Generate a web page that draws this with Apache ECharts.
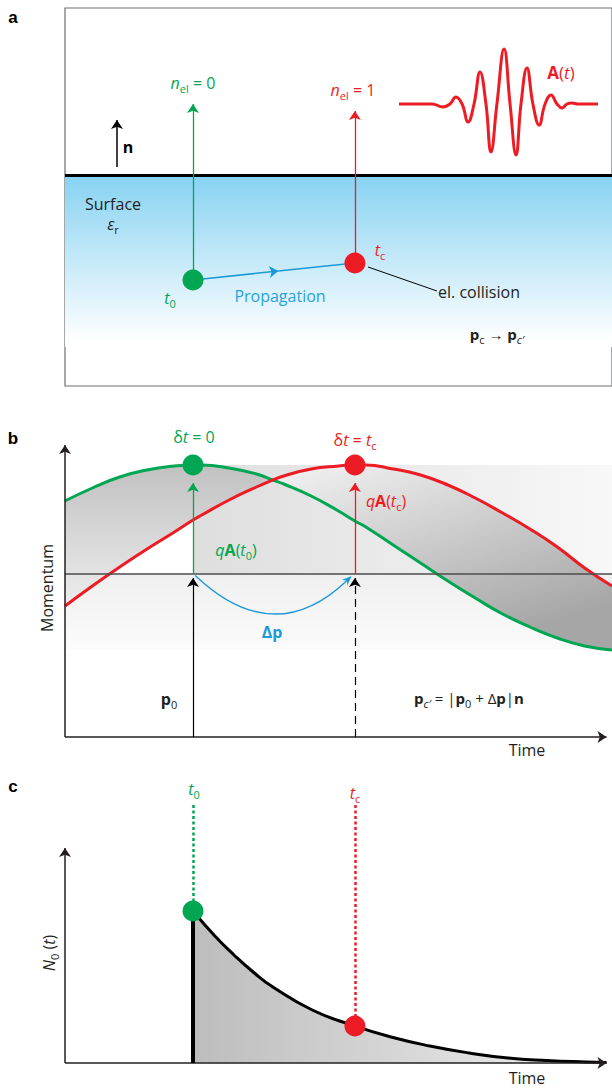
<!DOCTYPE html>
<html><head><meta charset="utf-8">
<script src="https://cdn.jsdelivr.net/npm/echarts@6.0.0/dist/echarts.min.js"></script>
<style>html,body{margin:0;padding:0;background:#fff}#c{width:612px;height:1090px}</style>
</head><body><div id="c"></div>
<script>
// ================= DATA =================
// shared time marks (time units, axis 0..100)
const t0 = 23.4;          // emission time
const tc = 53.0;          // collision time
const crossT = 38;        // where the two momentum curves cross

// panel a: schematic (lateral position in time units, height relative to surface)
const nArrowX = 9.5;
const nArrow = [8, 55];
const emitDepth = -105;
const collideDepth = -88;
const emitArrowTop = 71;
const collideArrowTop = 64;
const propMid = [39.0, -96];
const collisionLeader = [[55.4, -92], [68.0, -116]];

// panel a: laser pulse A(t)
const waveT = [0, 16.6, 22.1, 25.6, 28.6, 31.7, 34.7, 37.7, 40.7, 43.7, 46.2, 49.2, 52.8, 55.8, 58.8, 61.3, 64.3, 67.3, 70.4, 73.4, 76.4, 79.4, 81.9, 84.4, 86.9, 89.9, 100];
const waveA = [0, 0, -3, 0, 7, 0, -18, 0, 32, 0, -48, 0, 55, 0, -51, 0, 36, 0, -21, 0, 9, 0, -4, 0, 1, 0, 0];

// panel b: momentum curves
const timeB  = [0, 5, 10, 15, 20, 23.4, 25, 30, 35, 38, 40, 45, 50, 53, 55, 60, 65, 70, 75, 80, 85, 90, 95, 100];
const greenP = [73, 86, 97, 104, 108, 109, 109, 106, 100, 94, 90, 78, 63, 53, 47, 29, 11, -7, -24, -40, -53, -64, -72, -76];
const redP   = [-32, -12, 7, 25, 42, 54, 59, 74, 87, 94, 98, 105, 108, 109, 109, 105, 99, 89, 76, 61, 45, 27, 6, -12];
const peakP = 109;
const kickTop = 91;
const arcDepth = -39;     // lowest point of the Δp arc
const bandTop = 109, bandBottom = -76;
const axisBottomB = -163;

// panel c: N0(t) decay
const decayT = [23.4, 27.4, 30.9, 34.4, 38.0, 45.2, 53.0, 59.6, 66.7, 73.9, 81.0, 88.1, 95.2, 99];
const decayN = [152, 127, 108, 91, 76, 53, 37, 26, 17, 10, 5, 2.5, 1, 0.5];
const dottedTop = 258;

// ================= STYLE =================
const G = '#00a651', R = '#ed1c24', B = '#1d9ad6', K = '#231f20';
const F = '"Open Sans", "Noto Sans", sans-serif';

function zip(a, b) { return a.map((v, i) => [v, b[i]]); }
function lin(x, y, x2, y2, stops) {
  return {type: 'linear', x: x, y: y, x2: x2, y2: y2, colorStops: stops.map((c) => ({offset: c[0], color: c[1]}))};
}
function rich(color, size) {
  const base = {fill: color, color: color, fontFamily: F, fontSize: size, lineHeight: size + 6};
  const ss = Math.round(size * 0.7);
  return {
    r: Object.assign({}, base),
    i: Object.assign({}, base, {fontStyle: 'italic'}),
    b: Object.assign({}, base, {fontWeight: 'bold'}),
    s: {fill: color, color: color, fontFamily: F, fontSize: ss, lineHeight: ss + 1, verticalAlign: 'bottom'},
    si: {fill: color, color: color, fontFamily: F, fontSize: ss, fontStyle: 'italic', lineHeight: ss + 1, verticalAlign: 'bottom'}
  };
}
function txt(x, y, text, color, size, extra) {
  const el = {
    type: 'text', x: x, y: y, z: 100, silent: true,
    style: {text: text, fill: color, fontFamily: F, fontSize: size, lineHeight: size + 6,
      align: 'center', textAlign: 'center', verticalAlign: 'middle', textVerticalAlign: 'middle',
      rich: rich(color, size)}
  };
  if (extra) { Object.assign(el, extra.el || {}); Object.assign(el.style, extra.style || {}); }
  return el;
}
function seg(p1, p2, style) {
  return [{coord: p1, lineStyle: style}, {coord: p2}];
}
// a helper series that only carries mark lines
function lines(xi, data, sym, extra) {
  return Object.assign({type: 'line', xAxisIndex: xi, yAxisIndex: xi, data: [], z: 4, silent: true,
    markLine: Object.assign({silent: true, animation: false, symbol: sym, symbolSize: 9, label: {show: false}, data: data}, extra || {})});
}

// band between the two momentum curves, built from the curve arrays
function bandPolygon(api, lo, hi, upper, lower) {
  const pts = [];
  for (let i = 0; i < timeB.length; i++) if (timeB[i] >= lo && timeB[i] <= hi) pts.push(api.coord([timeB[i], upper[i]]));
  for (let i = timeB.length - 1; i >= 0; i--) if (timeB[i] >= lo && timeB[i] <= hi) pts.push(api.coord([timeB[i], lower[i]]));
  return pts;
}

const hidden = {type: 'value', show: false};
const dotStyle = (c) => ({color: c, opacity: 1});
const option = {
  animation: false,
  grid: [
    {left: 65, top: 8, width: 547, height: 378, show: true, borderColor: '#6d6e71', borderWidth: 1.2, backgroundColor: 'rgba(0,0,0,0)'},
    {left: 399, top: 49, width: 199, height: 110},
    {left: 65, top: 437, width: 547, height: 300},
    {left: 65, top: 790, width: 547, height: 273}
  ],
  xAxis: [
    Object.assign({gridIndex: 0, min: 0, max: 100}, hidden),
    Object.assign({gridIndex: 1, min: 0, max: 100}, hidden),
    Object.assign({gridIndex: 2, min: 0, max: 100}, hidden),
    Object.assign({gridIndex: 3, min: 0, max: 100}, hidden)
  ],
  yAxis: [
    Object.assign({gridIndex: 0, min: -211, max: 167}, hidden),
    Object.assign({gridIndex: 1, min: -55, max: 55}, hidden),
    Object.assign({gridIndex: 2, min: -163, max: 137}, hidden),
    Object.assign({gridIndex: 3, min: 0, max: 273}, hidden)
  ],
  series: [
    // ---------- panel a ----------
    {type: 'line', xAxisIndex: 0, yAxisIndex: 0, data: [], z: 1, silent: true,
      markArea: {silent: true, itemStyle: {color: lin(0, 0, 0, 1, [[0, '#86d2f2'], [0.45, '#bfe7f8'], [0.97, '#ffffff'], [1, '#ffffff']])},
        data: [[{coord: [0, 0]}, {coord: [100, -172]}]]}},
    lines(0, [{yAxis: 0, lineStyle: {color: '#000', width: 3, type: 'solid'}}], 'none'),
    lines(0, [
      seg([nArrowX, nArrow[0]], [nArrowX, nArrow[1]], {color: '#000', width: 1.5, type: 'solid'}),
      seg([t0, emitDepth], [t0, emitArrowTop], {color: G, width: 1.3, type: 'solid'}),
      seg([tc, collideDepth], [tc, collideArrowTop], {color: R, width: 1.3, type: 'solid'}),
      seg([t0, emitDepth], propMid, {color: B, width: 1.6, type: 'solid'})
    ], ['none', 'arrow']),
    lines(0, [
      seg(propMid, [tc, collideDepth], {color: B, width: 1.6, type: 'solid'}),
      seg(collisionLeader[0], collisionLeader[1], {color: '#000', width: 1, type: 'solid'})
    ], 'none'),
    {type: 'scatter', xAxisIndex: 0, yAxisIndex: 0, z: 5, silent: true, symbolSize: 21,
      data: [{value: [t0, emitDepth], itemStyle: dotStyle(G)}, {value: [tc, collideDepth], itemStyle: dotStyle(R)}]},
    // pulse
    {type: 'line', xAxisIndex: 1, yAxisIndex: 1, smooth: 0.45, symbol: 'none', silent: true, clip: false,
      lineStyle: {color: R, width: 3}, data: zip(waveT, waveA)},

    // ---------- panel b ----------
    {type: 'line', xAxisIndex: 2, yAxisIndex: 2, data: [], z: 1, silent: true,
      markArea: {silent: true, data: [
        [{coord: [t0, bandTop], itemStyle: {color: lin(0, 0, 1, 0, [[0, '#dedede'], [1, '#f8f8f8']])}}, {coord: [100, 0]}],
        [{coord: [0, 0], itemStyle: {color: lin(0, 0, 0, 1, [[0, '#efefef'], [1, '#fcfcfc']])}}, {coord: [100, bandBottom]}]
      ]}},
    {type: 'custom', xAxisIndex: 2, yAxisIndex: 2, coordinateSystem: 'cartesian2d', z: 2, silent: true, clip: false,
      data: [[0, 0]],
      renderItem: function (params, api) {
        return {type: 'group', children: [
          {type: 'polygon', shape: {points: bandPolygon(api, 0, crossT, greenP, redP)},
            style: {fill: lin(0, 0, 0, 1, [[0, '#c1c1c1'], [1, '#ededed']])}},
          {type: 'polygon', shape: {points: bandPolygon(api, crossT, 100, redP, greenP)},
            style: {fill: lin(0, 0, 0.55, 1, [[0, '#f3f3f3'], [1, '#a6a6a6']])}}
        ]};
      }},
    {type: 'line', xAxisIndex: 2, yAxisIndex: 2, smooth: true, symbol: 'none', silent: true, z: 3,
      lineStyle: {color: G, width: 3}, data: zip(timeB, greenP)},
    {type: 'line', xAxisIndex: 2, yAxisIndex: 2, smooth: true, symbol: 'none', silent: true, z: 3,
      lineStyle: {color: R, width: 3}, data: zip(timeB, redP)},
    lines(2, [{yAxis: 0, lineStyle: {color: '#4d4d4f', width: 1.6, type: 'solid'}}], 'none'),
    lines(2, [
      seg([tc, axisBottomB], [tc, -4], {color: '#000', width: 1.2, type: [8, 5]}),
      seg([0, axisBottomB], [0, 129], {color: K, width: 1.5, type: 'solid'}),
      seg([0, axisBottomB], [99, axisBottomB], {color: K, width: 1.5, type: 'solid'}),
      seg([t0, axisBottomB], [t0, -4], {color: '#000', width: 1.2, type: 'solid'}),
      seg([t0, 0], [t0, kickTop], {color: G, width: 1.3, type: 'solid'}),
      seg([tc, 0], [tc, kickTop], {color: R, width: 1.3, type: 'solid'})
    ], ['none', 'arrow']),
    // Δp arc (quadratic curve through the library's coordinates) with arrowhead
    {type: 'custom', xAxisIndex: 2, yAxisIndex: 2, coordinateSystem: 'cartesian2d', z: 4, silent: true, clip: false,
      data: [[0, 0]],
      renderItem: function (params, api) {
        const p1 = api.coord([t0 + 0.4, -1.5]);
        const p2 = api.coord([tc - 0.6, -2]);
        const cp = api.coord([(t0 + tc) / 2, 2 * arcDepth + 1.7]);
        const dx = p2[0] - cp[0], dy = p2[1] - cp[1], L = Math.hypot(dx, dy);
        const ux = dx / L, uy = dy / L, nx = -uy, ny = ux, len = 10, hw = 4;
        return {type: 'group', children: [
          {type: 'bezierCurve', shape: {x1: p1[0], y1: p1[1], x2: p2[0] - ux * 6, y2: p2[1] - uy * 6, cpx1: cp[0], cpy1: cp[1]},
            style: {stroke: B, lineWidth: 1.4, fill: 'none'}},
          {type: 'polygon', shape: {points: [
            [p2[0], p2[1]],
            [p2[0] - ux * len + nx * hw, p2[1] - uy * len + ny * hw],
            [p2[0] - ux * len * 0.65, p2[1] - uy * len * 0.65],
            [p2[0] - ux * len - nx * hw, p2[1] - uy * len - ny * hw]]},
            style: {fill: B, stroke: 'none'}}
        ]};
      }},
    {type: 'scatter', xAxisIndex: 2, yAxisIndex: 2, z: 5, silent: true, symbolSize: 21,
      data: [{value: [t0, peakP], itemStyle: dotStyle(G)}, {value: [tc, peakP], itemStyle: dotStyle(R)}]},

    // ---------- panel c ----------
    {type: 'line', xAxisIndex: 3, yAxisIndex: 3, smooth: true, symbol: 'none', silent: true, z: 3,
      lineStyle: {color: '#000', width: 3},
      areaStyle: {opacity: 1, color: lin(0, 0, 1, 0, [[0, '#bdbdbd'], [1, '#f0f0f0']])},
      data: zip(decayT, decayN)},
    lines(3, [
      seg([0, 0], [0, 215], {color: K, width: 1.5, type: 'solid'}),
      seg([0, 0], [99, 0], {color: K, width: 1.5, type: 'solid'})
    ], ['none', 'arrow']),
    lines(3, [
      seg([t0, 0], [t0, decayN[0]], {color: '#000', width: 4, type: 'solid'}),
      seg([t0, dottedTop], [t0, decayN[0] + 10], {color: G, width: 2.5, type: [3, 2.5]}),
      seg([tc, dottedTop], [tc, decayN[6] + 10], {color: R, width: 2.5, type: [3, 2.5]})
    ], 'none'),
    {type: 'scatter', xAxisIndex: 3, yAxisIndex: 3, z: 5, silent: true, symbolSize: 21,
      data: [{value: [t0, decayN[0]], itemStyle: dotStyle(G)}, {value: [tc, decayN[6]], itemStyle: dotStyle(R)}]}
  ],
  graphic: [
    // panel letters
    txt(13, 17, 'a', '#000', 17, {style: {fontWeight: 'bold', fontFamily: '"Liberation Sans", sans-serif'}}),
    txt(13, 438, 'b', '#000', 17, {style: {fontWeight: 'bold', fontFamily: '"Liberation Sans", sans-serif'}}),
    txt(13, 786, 'c', '#000', 17, {style: {fontWeight: 'bold', fontFamily: '"Liberation Sans", sans-serif'}}),
    // panel a
    txt(128, 147, '{b|n}', '#000', 16),
    txt(193, 83, '{i|n}{s|el}{r| = 0}', G, 16),
    txt(353, 90, '{i|n}{s|el}{r| = 1}', R, 16),
    txt(561, 72, '{b|A}{r|(}{i|t}{r|)}', R, 17),
    txt(113, 204, 'Surface', K, 16),
    txt(113, 224, '{i|ε}{s|r}', K, 16),
    txt(380, 250, '{i|t}{s|c}', R, 16),
    txt(170, 298, '{i|t}{s|0}', G, 16),
    txt(280, 296, 'Propagation', '#29a3dd', 16),
    txt(479, 292, 'el. collision', K, 16),
    txt(497, 334, '{b|p}{s|c}{r| → }{b|p}{si|c′}', K, 15),
    // panel b
    txt(194, 437, '{r|δ}{i|t}{r| = 0}', G, 16),
    txt(355, 440, '{r|δ}{i|t}{r| = }{i|t}{s|c}', R, 16),
    txt(236, 550, '{i|q}{b|A}{r|(}{i|t}{s|0}{r|)}', G, 16),
    txt(386, 501, '{i|q}{b|A}{r|(}{i|t}{s|c}{r|)}', R, 16),
    txt(272, 632, '{b|Δp}', B, 16),
    txt(169, 699, '{b|p}{s|0}', K, 16),
    txt(469, 698, '{b|p}{si|c′}{r| = |}{b|p}{s|0}{r| + Δ}{b|p}{r||}{b|n}', K, 15),
    txt(47, 588, 'Momentum', K, 16, {el: {rotation: Math.PI / 2}}),
    txt(527, 750, 'Time', K, 16),
    // panel c
    txt(194, 789, '{i|t}{s|0}', G, 16),
    txt(355, 793, '{i|t}{s|c}', R, 16),
    txt(49, 953, '{i|N}{s|0}{r| (}{i|t}{r|)}', K, 16, {el: {rotation: Math.PI / 2}}),
    txt(527, 1078, 'Time', K, 16)
  ]
};
const chart = echarts.init(document.getElementById('c'), null, {renderer: 'svg', width: 612, height: 1090});
chart.setOption(option);
</script></body></html>
